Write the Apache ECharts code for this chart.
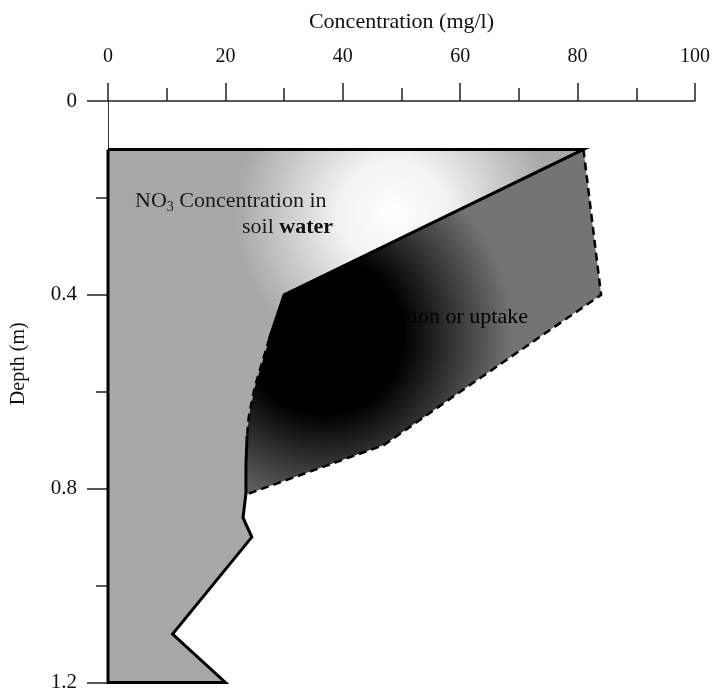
<!DOCTYPE html>
<html>
<head>
<meta charset="utf-8">
<script src="https://cdn.jsdelivr.net/npm/echarts@6/dist/echarts.min.js"></script>
<style>
  html, body { margin: 0; padding: 0; background: #fff; }
  #chart { width: 715px; height: 693px; }
</style>
</head>
<body>
<div id="chart"></div>
<script>
// NO3 profile in soil water (concentration mg/l vs depth m)
var soilConc  = [81, 30, 27.5, 26.5, 25, 24, 23.7, 23.5, 23.5, 23, 24.5, 11, 20];
var soilDepth = [0.1, 0.4, 0.49, 0.53, 0.59, 0.65, 0.69, 0.75, 0.81, 0.86, 0.9, 1.1, 1.2];

// profile without denitrification / uptake (dashed)
var noUptakeConc  = [81, 84, 60, 47, 24];
var noUptakeDepth = [0.1, 0.4, 0.6, 0.71, 0.81];

var xTicks = [0, 20, 40, 60, 80, 100];
var yTicks = [0, 0.4, 0.8, 1.2];

var serif = 'Liberation Serif';

function pairs(xs, ys, from, to) {
    var out = [];
    for (var i = from; i <= to; i++) {
        out.push([xs[i], ys[i]]);
    }
    return out;
}

var last = soilConc.length - 1;
// light area: soil water
var soilPoly = [[0, soilDepth[0]]].concat(pairs(soilConc, soilDepth, 0, last)).concat([[0, soilDepth[last]]]);
// dark area between dashed and soil profile
var joinIdx = soilDepth.indexOf(noUptakeDepth[noUptakeDepth.length - 1]);
var uptakePoly = pairs(noUptakeConc, noUptakeDepth, 0, noUptakeConc.length - 1)
    .concat(pairs(soilConc, soilDepth, 0, joinIdx).reverse());

function polySeries(points, fill) {
    return {
        type: 'custom',
        z: 1,
        silent: true,
        clip: false,
        data: [[0, 0]],
        renderItem: function (params, api) {
            return {
                type: 'polygon',
                shape: { points: points.map(function (p) { return api.coord(p); }) },
                style: { fill: fill, stroke: null }
            };
        }
    };
}

function lineSeries(data, type, width) {
    return {
        type: 'line',
        z: 3,
        silent: true,
        clip: false,
        symbol: 'none',
        animation: false,
        data: data,
        lineStyle: { color: '#000', width: width, type: type, join: 'miter', cap: 'butt' }
    };
}

var myChart = echarts.init(document.getElementById('chart'));

var option = {
    animation: false,
    grid: { left: 108, right: 20, top: 101, bottom: 8, containLabel: false },
    xAxis: {
        type: 'value',
        position: 'top',
        min: 0,
        max: 100,
        interval: 20,
        name: 'Concentration (mg/l)',
        nameLocation: 'middle',
        nameGap: 68,
        nameTextStyle: { fontFamily: serif, fontSize: 22, color: '#111' },
        axisLine: { show: true, lineStyle: { color: '#222', width: 1.5 } },
        axisTick: { show: true, length: 18, lineStyle: { color: '#222', width: 1.5 } },
        minorTick: { show: true, splitNumber: 2, length: 13, lineStyle: { color: '#222', width: 1.5 } },
        axisLabel: {
            margin: 34,
            fontFamily: serif,
            fontSize: 20,
            color: '#111',
            formatter: function (v) { return xTicks.indexOf(v) >= 0 ? String(v) : ''; }
        },
        splitLine: { show: false }
    },
    yAxis: {
        type: 'value',
        inverse: true,
        min: 0,
        max: 1.2,
        interval: 0.4,
        name: 'Depth (m)',
        nameLocation: 'middle',
        nameRotate: 90,
        nameGap: 79,
        nameTextStyle: { fontFamily: serif, fontSize: 20, color: '#111', padding: [0, 0, 0, 56] },
        axisLine: { show: true, lineStyle: { color: '#333', width: 1 } },
        axisTick: { show: true, length: 21, lineStyle: { color: '#222', width: 1.5 } },
        minorTick: { show: true, splitNumber: 2, length: 12, lineStyle: { color: '#222', width: 1.5 } },
        axisLabel: {
            margin: 31,
            fontFamily: serif,
            fontSize: 21,
            color: '#111',
            formatter: function (v) {
                for (var i = 0; i < yTicks.length; i++) {
                    if (Math.abs(yTicks[i] - v) < 1e-6) return String(yTicks[i]);
                }
                return '';
            }
        },
        splitLine: { show: false }
    },
    graphic: [
        {
            type: 'text',
            x: 135,
            y: 188,
            z: 10,
            style: {
                text: '{a|NO}{s|3}{a| Concentration in}',
                rich: {
                    a: { fontFamily: serif, fontSize: 22, lineHeight: 26, fill: '#1a1a1a', verticalAlign: 'middle' },
                    s: { fontFamily: serif, fontSize: 14, lineHeight: 14, fill: '#1a1a1a', verticalAlign: 'bottom' }
                }
            }
        },
        {
            type: 'text',
            x: 333,
            y: 214,
            z: 10,
            style: {
                text: '{a|soil }{b|water}',
                align: 'right',
                rich: {
                    a: { fontFamily: serif, fontSize: 22, lineHeight: 26, fill: '#1a1a1a' },
                    b: { fontFamily: serif, fontSize: 22, lineHeight: 26, fontWeight: 'bold', fill: '#111' }
                }
            }
        },
        {
            // black text: the left part disappears into the black core
            type: 'text',
            x: 528,
            y: 306,
            z: 10,
            style: {
                text: 'Denitrification or uptake',
                align: 'right',
                font: '22px "Liberation Serif"',
                fill: '#000'
            }
        }
    ],
    series: [
        polySeries(soilPoly, {
            type: 'radial', x: 0.6, y: 0.12, r: 0.33,
            colorStops: [
                { offset: 0, color: '#ffffff' },
                { offset: 0.35, color: '#f2f2f2' },
                { offset: 1, color: '#a8a8a8' }
            ]
        }),
        polySeries(uptakePoly, {
            type: 'radial', x: 0.22, y: 0.54, r: 0.55,
            colorStops: [
                { offset: 0, color: '#000000' },
                { offset: 0.42, color: '#000000' },
                { offset: 1, color: '#747474' }
            ]
        }),
        // frame of the soil water area + first solid part
        lineSeries([[0, soilDepth[0]]].concat(pairs(soilConc, soilDepth, 0, 2)), 'solid', 3),
        lineSeries(pairs(soilConc, soilDepth, 2, 6), [8, 5], 2.5),
        lineSeries(pairs(soilConc, soilDepth, 6, last).concat([[0, soilDepth[last]], [0, soilDepth[0]]]), 'solid', 3),
        lineSeries(pairs(noUptakeConc, noUptakeDepth, 0, noUptakeConc.length - 1), [8, 5], 2.5)
    ]
};

myChart.setOption(option);
</script>
</body>
</html>
